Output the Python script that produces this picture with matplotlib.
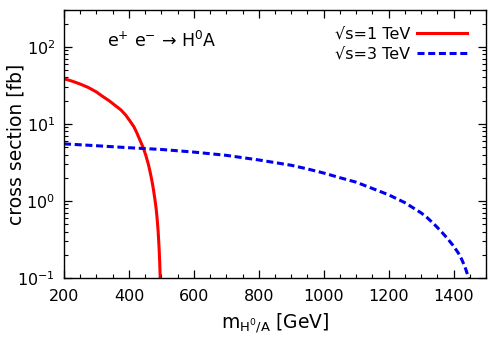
"""
Cross section for e+ e- -> H0 A vs Higgs mass at sqrt(s) = 1 and 3 TeV.
"""

import matplotlib
matplotlib.use("Agg")
import matplotlib.pyplot as plt
from matplotlib.ticker import MultipleLocator

# sqrt(s) = 1 TeV
m_1tev = [200, 225, 250, 275, 300, 317, 340, 360, 375, 390, 403, 415, 424,
          435, 444, 452, 460, 465, 470, 475, 480, 484, 487, 490, 493, 495, 497]
xs_1tev = [38.5, 35.8, 32.8, 29.6, 25.9, 23.0, 19.8, 17.0, 15.2, 13.0, 10.9,
           9.2, 7.7, 6.0, 4.9, 3.9, 2.97, 2.4, 1.9, 1.45, 1.05, 0.78, 0.58,
           0.40, 0.24, 0.15, 0.08]

# sqrt(s) = 3 TeV
m_3tev = [200, 300, 400, 500, 600, 700, 800, 900, 950, 1000, 1050, 1100,
          1150, 1200, 1250, 1300, 1320, 1340, 1360, 1380, 1400, 1415, 1425,
          1435, 1445, 1450]
xs_3tev = [5.5, 5.2, 4.9, 4.65, 4.3, 3.9, 3.4, 2.9, 2.6, 2.3, 2.0, 1.75,
           1.45, 1.2, 0.95, 0.7, 0.6, 0.5, 0.41, 0.33, 0.26, 0.21, 0.175,
           0.14, 0.105, 0.09]

fig = plt.figure(figsize=(4.94, 3.40), dpi=100)
ax = fig.add_axes([0.1296, 0.1824, 0.8542, 0.7882])

ax.plot(m_1tev, xs_1tev, color="#ff0000", linewidth=2.2, label="\u221as=1 TeV")
line3, = ax.plot(m_3tev, xs_3tev, color="#0000ee", linewidth=2.2,
                 label="\u221as=3 TeV")
line3.set_dashes([2.3, 1.2])

ax.set_yscale("log")
ax.set_xlim(200, 1500)
ax.set_ylim(0.1, 300)

ax.xaxis.set_major_locator(MultipleLocator(200))
ax.xaxis.set_minor_locator(MultipleLocator(50))
ax.tick_params(which="both", direction="in", top=True, right=True, labelsize=11.5)
ax.tick_params(which="major", length=5.5, width=0.9)
ax.tick_params(which="minor", length=3.2, width=0.8)
ax.tick_params(axis="x", which="major", pad=8)
ax.tick_params(axis="y", which="major", pad=6.5)
for spine in ax.spines.values():
    spine.set_linewidth(1.0)

ax.set_xlabel(r"m$_{\mathregular{H^0/A}}$ [GeV]", fontsize=13.5, labelpad=5)
ax.set_ylabel("cross section [fb]", fontsize=13.5)
ax.yaxis.set_label_coords(-0.0924, 0.5)

ax.text(0.101, 0.863, "e$^{+}$ e$^{-}$ \u2192 H$^{0}$A", transform=ax.transAxes,
        fontsize=12.5, va="baseline")

ax.legend(loc="upper right", bbox_to_anchor=(0.955, 0.937), frameon=False,
          markerfirst=False, fontsize=11.5, handlelength=3.13,
          handletextpad=0.44, labelspacing=0.3, borderaxespad=0,
          borderpad=0)

fig.savefig("out.png", dpi=100)
